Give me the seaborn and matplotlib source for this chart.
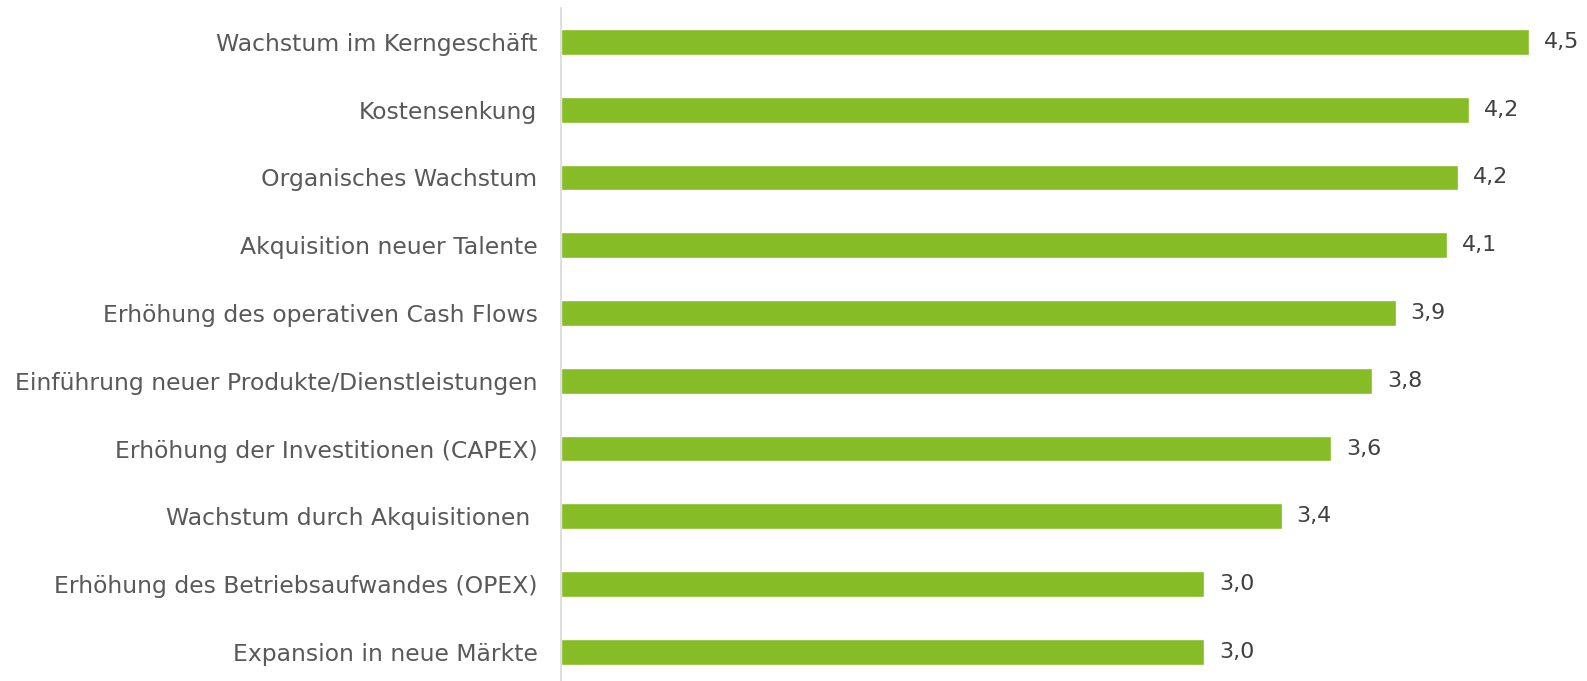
import matplotlib
matplotlib.use("Agg")
import matplotlib.pyplot as plt
import seaborn as sns
import pandas as pd

categories = [
    "Wachstum im Kerngeschäft",
    "Kostensenkung",
    "Organisches Wachstum",
    "Akquisition neuer Talente",
    "Erhöhung des operativen Cash Flows",
    "Einführung neuer Produkte/Dienstleistungen",
    "Erhöhung der Investitionen (CAPEX)",
    "Wachstum durch Akquisitionen ",
    "Erhöhung des Betriebsaufwandes (OPEX)",
    "Expansion in neue Märkte",
]
scores = [4.50, 4.22, 4.17, 4.12, 3.88, 3.77, 3.58, 3.35, 2.99, 2.99]

df = pd.DataFrame({"Ziel": categories, "Wert": scores})

sns.set_theme(style="white")
plt.rcParams["font.family"] = ["DejaVu Sans"]

BAR_COLOR = "#86BC25"
TEXT_COLOR = "#595959"

fig = plt.figure(figsize=(15.87, 6.81), dpi=100)
ax = fig.add_axes([561 / 1587, 0.0, 1 - 561 / 1587, 1 - 8 / 681])

sns.barplot(data=df, x="Wert", y="Ziel", orient="h", color=BAR_COLOR,
            saturation=1, width=0.38, ax=ax)

ax.set_xlim(0, 4.77)
ax.set_ylim(9.43, -0.5)
ax.set_xlabel("")
ax.set_ylabel("")
ax.set_xticks([])

for side in ["top", "right", "bottom"]:
    ax.spines[side].set_visible(False)
ax.spines["left"].set_color("#D9D9D9")
ax.spines["left"].set_linewidth(1.2)

ax.tick_params(axis="y", length=0, pad=17, labelsize=16.9, labelcolor=TEXT_COLOR)

for i, v in enumerate(scores):
    ax.text(v + 0.07, i, f"{v:.1f}".replace(".", ","), va="center", ha="left",
            fontsize=16, color="#404040")

fig.savefig("out.png", dpi=100)
